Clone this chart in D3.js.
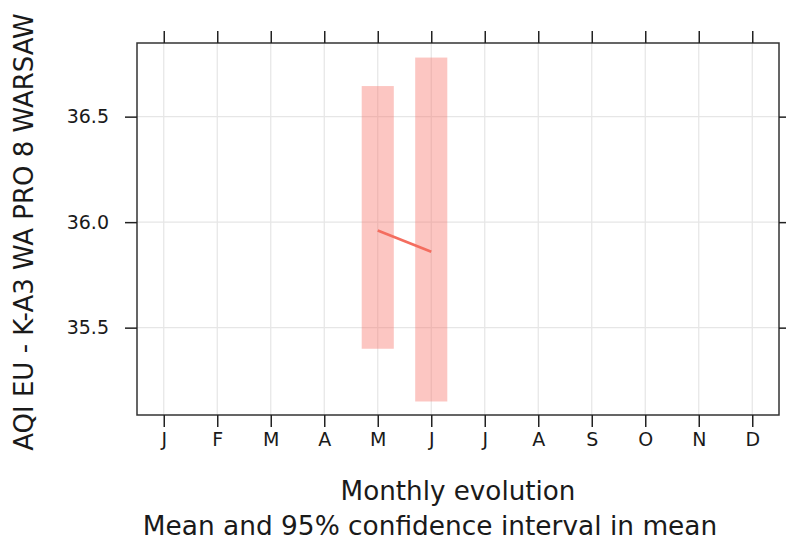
<!DOCTYPE html>
<html>
<head>
<meta charset="utf-8">
<script src="https://cdn.jsdelivr.net/npm/d3@7"></script>
<style>
  body { margin: 0; background: #fff; }
  text { font-family: "DejaVu Sans", sans-serif; fill: #1a1a1a; }
</style>
</head>
<body>
<div id="chart"></div>
<script>
// month index 1..12, labels shown on the axis
const monthLabels = ['J', 'F', 'M', 'A', 'M', 'J', 'J', 'A', 'S', 'O', 'N', 'D'];
// months that have data (May, June)
const months = [5, 6];
const meanValues = [35.96, 35.86];
const lowerCI = [35.40, 35.15];
const upperCI = [36.645, 36.78];
const yTicks = [35.5, 36.0, 36.5];

const width = 786, height = 540;
const margin = { top: 43, right: 7, bottom: 125, left: 137 };
const plotW = width - margin.left - margin.right;
const plotH = height - margin.top - margin.bottom;

const svg = d3.select('#chart').append('svg')
    .attr('width', width)
    .attr('height', height);

const x = d3.scaleLinear().domain([0.5, 12.5]).range([0, plotW]);
const y = d3.scaleLinear().domain([35.086, 36.849]).range([plotH, 0]);

const g = svg.append('g')
    .attr('transform', `translate(${margin.left},${margin.top})`);

// grid
g.selectAll('.vgrid')
    .data(d3.range(1, 13))
    .enter().append('line')
    .attr('x1', d => x(d)).attr('x2', d => x(d))
    .attr('y1', 0).attr('y2', plotH)
    .attr('stroke', '#e6e6e6').attr('stroke-width', 1.2);

g.selectAll('.hgrid')
    .data(yTicks)
    .enter().append('line')
    .attr('x1', 0).attr('x2', plotW)
    .attr('y1', d => y(d)).attr('y2', d => y(d))
    .attr('stroke', '#e6e6e6').attr('stroke-width', 1.2);

// confidence bands
const data = months.map((m, i) => ({ m: m, mean: meanValues[i], lo: lowerCI[i], hi: upperCI[i] }));
const bandW = x(0.3) - x(0);

g.selectAll('.band')
    .data(data)
    .enter().append('rect')
    .attr('x', d => x(d.m) - bandW)
    .attr('width', bandW * 2)
    .attr('y', d => y(d.hi))
    .attr('height', d => y(d.lo) - y(d.hi))
    .attr('fill', '#f8766d')
    .attr('fill-opacity', 0.42);

// mean line
const line = d3.line().x(d => x(d.m)).y(d => y(d.mean));
g.append('path')
    .datum(data)
    .attr('d', line)
    .attr('fill', 'none')
    .attr('stroke', '#f46d5f')
    .attr('stroke-width', 2.6);

// frame
g.append('rect')
    .attr('width', plotW).attr('height', plotH)
    .attr('fill', 'none')
    .attr('stroke', '#333').attr('stroke-width', 1.5);

// axes: ticks on all sides, labels left and bottom
const tickLen = 12;
const xBottom = d3.axisBottom(x).tickValues(d3.range(1, 13))
    .tickFormat(d => monthLabels[d - 1]).tickSize(tickLen).tickPadding(6);
const xTop = d3.axisTop(x).tickValues(d3.range(1, 13)).tickFormat('').tickSize(tickLen);
const yLeft = d3.axisLeft(y).tickValues(yTicks).tickFormat(d3.format('.1f'))
    .tickSize(tickLen).tickPadding(16);
const yRight = d3.axisRight(y).tickValues(yTicks).tickFormat('').tickSize(tickLen);

function styleAxis(sel) {
    sel.select('.domain').remove();
    sel.selectAll('.tick line').attr('stroke', '#222').attr('stroke-width', 1.5);
    sel.selectAll('.tick text')
        .attr('font-family', '"DejaVu Sans", sans-serif')
        .attr('font-size', 19)
        .attr('fill', '#1a1a1a');
}

g.append('g').attr('transform', `translate(0,${plotH})`).call(xBottom).call(styleAxis);
g.append('g').call(xTop).call(styleAxis);
g.append('g').call(yLeft).call(styleAxis);
g.append('g').attr('transform', `translate(${plotW},0)`).call(yRight).call(styleAxis);

// labels
svg.append('text')
    .attr('x', 458)
    .attr('y', 500)
    .attr('text-anchor', 'middle')
    .attr('font-size', 26.2)
    .text('Monthly evolution');

svg.append('text')
    .attr('x', 430)
    .attr('y', 535)
    .attr('text-anchor', 'middle')
    .attr('font-size', 26.4)
    .text('Mean and 95% confidence interval in mean');

svg.append('text')
    .attr('transform', 'translate(33,232) rotate(-90)')
    .attr('text-anchor', 'middle')
    .attr('font-size', 26)
    .text('AQI EU - K-A3 WA PRO 8 WARSAW');
</script>
</body>
</html>
